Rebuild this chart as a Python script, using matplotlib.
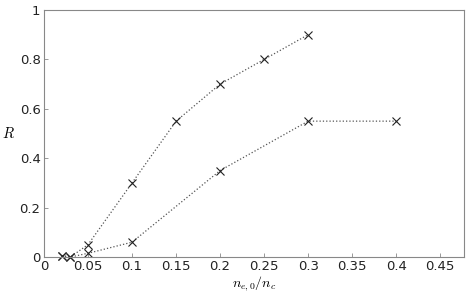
import numpy as np
import matplotlib
matplotlib.use("Agg")
import matplotlib.pyplot as plt

plt.rcParams["mathtext.fontset"] = "cm"

# upper curve
x1 = [0.02, 0.03, 0.05, 0.10, 0.15, 0.20, 0.25, 0.30]
r1 = [0.005, 0.0, 0.05, 0.30, 0.55, 0.70, 0.80, 0.90]
# lower curve
x2 = [0.02, 0.03, 0.05, 0.10, 0.20, 0.30, 0.40]
r2 = [0.005, 0.0, 0.015, 0.06, 0.35, 0.55, 0.55]

xticks = [0, 0.05, 0.1, 0.15, 0.2, 0.25, 0.3, 0.35, 0.4, 0.45]
xticklabels = ["0", "0.05", "0.1", "0.15", "0.2", "0.25", "0.3", "0.35", "0.4", "0.45"]
yticks = [0, 0.2, 0.4, 0.6, 0.8, 1]
yticklabels = ["0", "0.2", "0.4", "0.6", "0.8", "1"]

fig = plt.figure(figsize=(4.68, 2.92), dpi=100)
ax = fig.add_axes([44/468, 35/292, 420/468, 247/292])

for xs, ys in [(x1, r1), (x2, r2)]:
    ax.plot(xs, ys, linestyle=":", color="#555555", linewidth=0.9,
            marker="x", markersize=6, markeredgewidth=0.8, markeredgecolor="#222222",
            clip_on=False)

ax.set_xlim(0, 0.477)
ax.set_ylim(0, 1)
ax.set_xticks(xticks)
ax.set_xticklabels(xticklabels)
ax.set_yticks(yticks)
ax.set_yticklabels(yticklabels)
ax.tick_params(direction="in", length=3, width=0.6, color="#888888",
               labelsize=9.5, labelcolor="#222222", pad=2.5)
for s in ax.spines.values():
    s.set_color("#888888")
    s.set_linewidth(0.8)

ax.set_xlabel(r"$n_{e,0}/n_c$", fontsize=10, va="baseline")
ax.xaxis.set_label_coords(0.5, -0.122)
ax.set_ylabel(r"$R$", fontsize=10.5, rotation=0, va="center", ha="center")
ax.yaxis.set_label_coords(-0.085, 0.5)

fig.savefig("out.png", dpi=100)
